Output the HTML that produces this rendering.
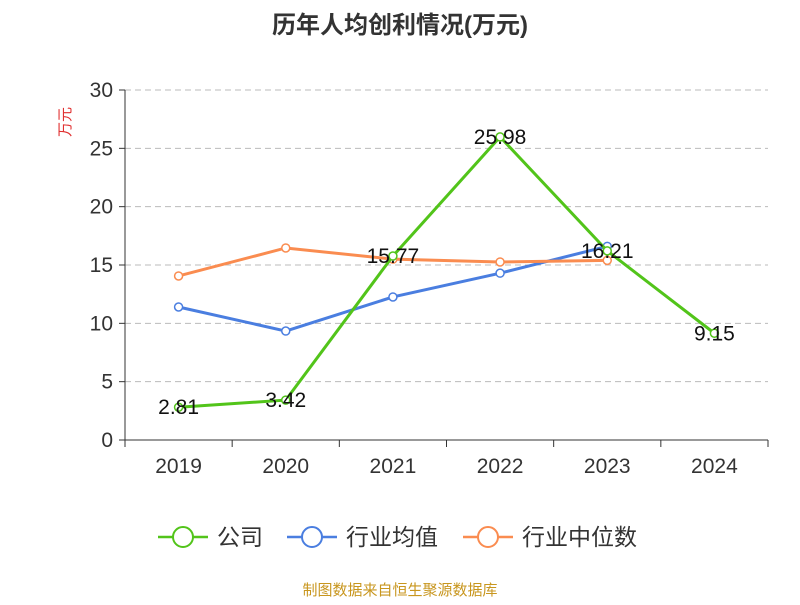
<!DOCTYPE html>
<html><head><meta charset="utf-8"><style>
body{margin:0;background:#fff;}
svg text{font-family:"Liberation Sans","Noto Sans CJK SC",sans-serif;}
</style></head><body>
<svg id="chart" width="800" height="600">
<text x="400" y="33" text-anchor="middle" font-size="24" font-weight="bold" fill="#333">历年人均创利情况(万元)</text>
<text transform="translate(70,122) rotate(-90)" text-anchor="middle" font-size="15" fill="#e03030">万元</text>
<g id="grid"></g><g id="axes"></g><g id="series"></g>
<g>
 <g><line x1="158" y1="537" x2="208" y2="537" stroke="#52c41a" stroke-width="2.5"/><circle cx="183" cy="537" r="10" fill="#fff" stroke="#52c41a" stroke-width="2"/><text x="217" y="545" font-size="23" fill="#333">公司</text></g>
 <g><line x1="287" y1="537" x2="337" y2="537" stroke="#4a7ee0" stroke-width="2.5"/><circle cx="312" cy="537" r="10" fill="#fff" stroke="#4a7ee0" stroke-width="2"/><text x="346" y="545" font-size="23" fill="#333">行业均值</text></g>
 <g><line x1="463" y1="537" x2="513" y2="537" stroke="#fa8c50" stroke-width="2.5"/><circle cx="488" cy="537" r="10" fill="#fff" stroke="#fa8c50" stroke-width="2"/><text x="522" y="545" font-size="23" fill="#333">行业中位数</text></g>
</g>
<text x="400" y="595" text-anchor="middle" font-size="15" fill="#c8961e">制图数据来自恒生聚源数据库</text>
</svg>
<script>
const categories=["2019","2020","2021","2022","2023","2024"];
const companyValues=[2.81,3.42,15.77,25.98,16.21,9.15];
const avgValues=[11.4,9.34,12.26,14.3,16.6,null];
const medianValues=[14.06,16.46,15.5,15.26,15.4,null];
const yTicks=[0,5,10,15,20,25,30];
const NS="http://www.w3.org/2000/svg";
const x0=125,x1=768,y0=440,y1=90,yMax=30;
const bw=(x1-x0)/categories.length;
const X=i=>x0+bw*(i+0.5);
const Y=v=>y0-(v/yMax)*(y0-y1);
function mk(t,a,p){const e=document.createElementNS(NS,t);for(const k in a)e.setAttribute(k,a[k]);p.appendChild(e);return e;}
const grid=document.getElementById('grid'),axes=document.getElementById('axes'),ser=document.getElementById('series');
yTicks.forEach(v=>{
 if(v>0){const g=mk('line',{x1:x0,x2:x1,y1:Y(v),y2:Y(v),stroke:'#bbb','stroke-dasharray':'6,4'},grid);
 
 }
 const tk=mk('line',{x1:x0-6,x2:x0,y1:Y(v),y2:Y(v),stroke:'#333'},axes);
 
 
 const t=mk('text',{x:x0-12,y:Y(v)+7,'text-anchor':'end','font-size':21,fill:'#333'},axes);t.textContent=v;
 
 
});
const ya=mk('line',{x1:x0,x2:x0,y1:y1,y2:y0,stroke:'#333'},axes);


const xa=mk('line',{x1:x0,x2:x1,y1:y0,y2:y0,stroke:'#333'},axes);


for(let i=0;i<=categories.length;i++){const l=mk('line',{x1:x0+bw*i,x2:x0+bw*i,y1:y0,y2:y0+7,stroke:'#333'},axes);
 
 }
categories.forEach((c,i)=>{const t=mk('text',{x:X(i),y:473,'text-anchor':'middle','font-size':21,fill:'#333'},axes);t.textContent=c;
 
 });
function series(vals,color,name,labels){
 const pts=[];vals.forEach((v,i)=>{if(v!=null)pts.push([X(i),Y(v),v]);});
 const p=mk('polyline',{points:pts.map(q=>q[0]+','+q[1]).join(' '),fill:'none',stroke:color,'stroke-width':3},ser);
 
 
 pts.forEach(q=>{const c=mk('circle',{cx:q[0],cy:q[1],r:4,fill:'#fff',stroke:color,'stroke-width':1.5},ser);
  
  
  if(labels){const t=mk('text',{x:q[0],y:q[1]+7,'text-anchor':'middle','font-size':21,fill:'#111'},ser);t.textContent=q[2].toFixed(2);
   
   }});
}
series(avgValues,'#4a7ee0','industry-avg',false);
series(medianValues,'#fa8c50','industry-median',false);
series(companyValues,'#52c41a','company',true);
</script>
</body></html>
